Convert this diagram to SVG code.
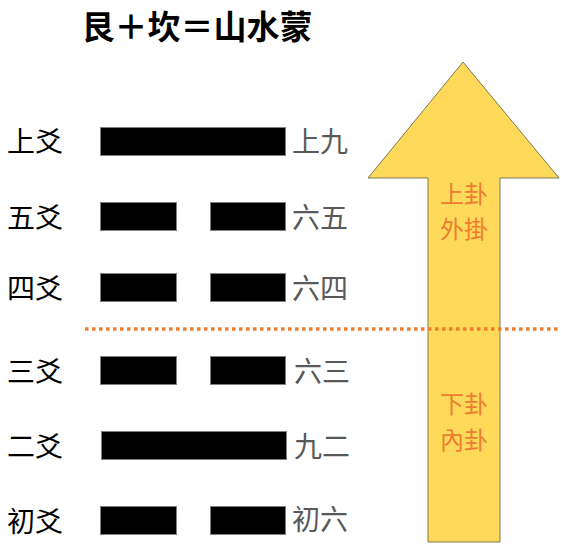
<svg xmlns="http://www.w3.org/2000/svg" width="561" height="553" viewBox="0 0 561 553">
<style>
.t{font-family:"Noto Sans CJK TC","Noto Sans CJK SC",sans-serif;}
.lab{font-size:28px;fill:#000;}
.nm{font-size:28px;fill:#595959;}
.gua{font-size:24px;fill:#ED7D31;text-anchor:middle;}
.bar{fill:#000;stroke:#808080;stroke-width:1;}
</style>
<rect width="561" height="553" fill="#fff"/>
<text class="t" x="197" y="39" font-size="33" font-weight="bold" text-anchor="middle">艮＋坎＝山水蒙</text>
<g id="arrow">
<polygon points="463,62 559,178 500,178 500,542 428,542 428,178 368,178" fill="#FFD95A" stroke="#5a5a3a" stroke-width="0.8"/>
<text class="t gua" x="464" y="203">上卦</text>
<text class="t gua" x="464" y="238">外掛</text>
<text class="t gua" x="464" y="413">下卦</text>
<text class="t gua" x="464" y="449">內卦</text>
</g>
<g id="divider">
<line x1="85" y1="329" x2="561" y2="329" stroke="#ED7D31" stroke-width="3.5" stroke-dasharray="3.5 3.5"/>
</g>
<g id="yao6">
<text class="t lab" x="7" y="152">上爻</text>
<rect class="bar" x="100.5" y="127.5" width="185" height="28"/>
<text class="t nm" x="292" y="152">上九</text>
</g>
<g id="yao5">
<text class="t lab" x="7" y="228">五爻</text>
<rect class="bar" x="100.5" y="202.5" width="76" height="28"/>
<rect class="bar" x="210.5" y="202.5" width="75" height="28"/>
<text class="t nm" x="292" y="228">六五</text>
</g>
<g id="yao4">
<text class="t lab" x="7" y="299">四爻</text>
<rect class="bar" x="100.5" y="273.5" width="76" height="28"/>
<rect class="bar" x="210.5" y="273.5" width="75" height="28"/>
<text class="t nm" x="292" y="299">六四</text>
</g>
<g id="yao3">
<text class="t lab" x="7" y="382">三爻</text>
<rect class="bar" x="100.5" y="356.5" width="76" height="28"/>
<rect class="bar" x="210.5" y="356.5" width="75" height="28"/>
<text class="t nm" x="294" y="382">六三</text>
</g>
<g id="yao2">
<text class="t lab" x="7" y="457">二爻</text>
<rect class="bar" x="101.5" y="431.5" width="185" height="28"/>
<text class="t nm" x="294" y="457">九二</text>
</g>
<g id="yao1">
<text class="t lab" x="7" y="532">初爻</text>
<rect class="bar" x="100.5" y="506.5" width="76" height="28"/>
<rect class="bar" x="210.5" y="506.5" width="75" height="28"/>
<text class="t nm" x="292" y="530">初六</text>
</g>
</svg>
